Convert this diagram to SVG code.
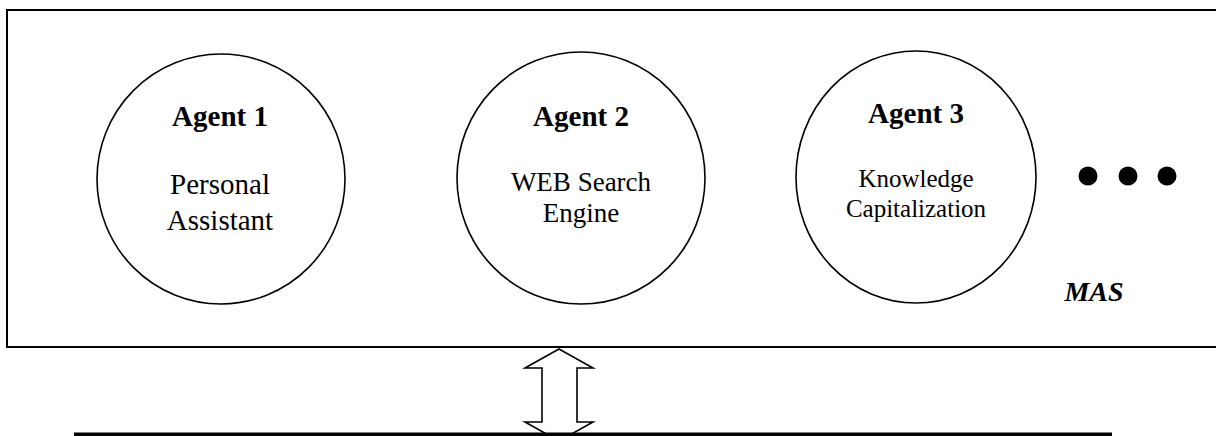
<svg xmlns="http://www.w3.org/2000/svg" width="1216" height="436" viewBox="0 0 1216 436">
  <style>
    .agent { fill: #fff; stroke: #000; stroke-width: 1.6; }
    .serif { font-family: "Liberation Serif", "Times New Roman", serif; fill: #000; text-anchor: middle; }
    .title { font-weight: bold; font-size: 29px; }
  </style>
  <rect width="1216" height="436" fill="#fff"/>

  <!-- multi-agent system frame -->
  <g id="mas">
    <rect x="7" y="10" width="1215" height="337" fill="#fff" stroke="#000" stroke-width="2"/>
    <text class="serif" x="1094" y="301" font-weight="bold" font-style="italic" font-size="28">MAS</text>
  </g>

  <g id="agent1">
    <ellipse class="agent" cx="221" cy="179" rx="124" ry="125"/>
    <text class="serif title" x="220" y="126">Agent 1</text>
    <text class="serif" x="220" y="194" font-size="29">Personal</text>
    <text class="serif" x="220" y="230" font-size="29">Assistant</text>
  </g>

  <g id="agent2">
    <ellipse class="agent" cx="581" cy="178" rx="124" ry="126"/>
    <text class="serif title" x="581" y="126">Agent 2</text>
    <text class="serif" x="581" y="191" font-size="27">WEB Search</text>
    <text class="serif" x="581" y="222" font-size="27">Engine</text>
  </g>

  <g id="agent3">
    <ellipse class="agent" cx="916" cy="177" rx="120" ry="126"/>
    <text class="serif title" x="916" y="123">Agent 3</text>
    <text class="serif" x="916" y="187" font-size="25">Knowledge</text>
    <text class="serif" x="916" y="217" font-size="25">Capitalization</text>
  </g>

  <!-- ellipsis: further agents -->
  <g id="more">
    <circle cx="1088" cy="176" r="9.5" fill="#000"/>
    <circle cx="1128" cy="176" r="9.5" fill="#000"/>
    <circle cx="1167" cy="176" r="9.5" fill="#000"/>
  </g>

  <g id="connectors">
    <!-- double-headed block arrow between MAS and the bus -->
    <polygon points="559,349 593,368 577,368 577,422 593,422 559,441 525,422 542,422 542,368 525,368" fill="#fff" stroke="#000" stroke-width="1.6" stroke-linejoin="miter"/>
  </g>

  <!-- communication bus -->
  <g id="bus">
    <rect x="74" y="432.5" width="1038" height="6" fill="#000"/>
  </g>
</svg>
